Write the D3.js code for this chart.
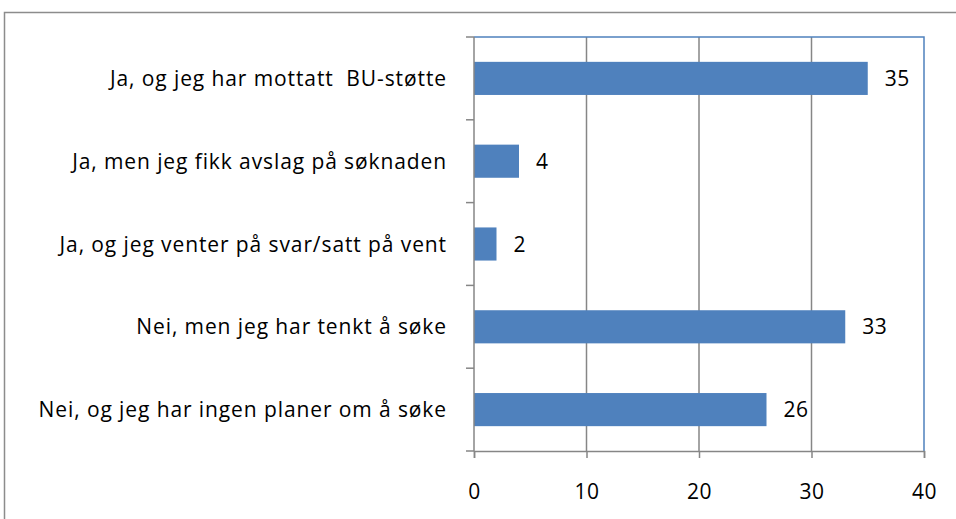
<!DOCTYPE html>
<html><head><meta charset="utf-8">
<script src="https://cdn.jsdelivr.net/npm/d3@7"></script>
<style>body{margin:0;background:#fff;} svg{display:block;font-family:"Open Sans",sans-serif;} text{white-space:pre;}</style>
</head><body>
<svg id="c" width="956" height="519"></svg>
<script>
const categories = [
  "Ja, og jeg har mottatt  BU-støtte",
  "Ja, men jeg fikk avslag på søknaden",
  "Ja, og jeg venter på svar/satt på vent",
  "Nei, men jeg har tenkt å søke",
  "Nei, og jeg har ingen planer om å søke"
];
const values = [35, 4, 2, 33, 26];
const xTicks = [0, 10, 20, 30, 40];

const svg = d3.select("#c");
const m = {left: 474, right: 924, top: 37, bottom: 451};
const x = d3.scaleLinear().domain([0, 40]).range([m.left, m.right]);
const y = d3.scaleBand().domain(categories).range([m.top, m.bottom]).paddingInner(0.6).paddingOuter(0.3);
const grey = "#868686", blue = "#4f81bd";

// outer chart border
svg.append("path").attr("d", "M4.5,960 V12.5 H960").attr("fill", "none").attr("stroke", "#8c8c8c").attr("stroke-width", 1.5);

// gridlines
svg.append("g").selectAll("line").data(xTicks.filter(t => t > 0 && t < 40)).join("line")
  .attr("x1", d => x(d)).attr("x2", d => x(d)).attr("y1", m.top).attr("y2", m.bottom)
  .attr("stroke", grey).attr("stroke-width", 1.5);

// plot area border (top & right)
svg.append("path").attr("d", `M${m.left},${m.top} H${m.right} V${m.bottom}`).attr("fill", "none").attr("stroke", blue).attr("stroke-width", 1.5);

// bars
svg.append("g").selectAll("rect").data(values).join("rect")
  .attr("x", x(0)).attr("y", (d, i) => y(categories[i]))
  .attr("width", d => x(d) - x(0)).attr("height", y.bandwidth())
  .attr("fill", blue);

// value labels
svg.append("g").selectAll("text").data(values).join("text")
  .attr("x", d => x(d) + 17).attr("y", (d, i) => y(categories[i]) + y.bandwidth() / 2)
  .attr("dy", "0.36em").attr("font-size", 21).attr("letter-spacing", 0.6).attr("fill", "#000").text(d => d);

// x axis
const xAxis = d3.axisBottom(x).tickValues(xTicks).tickSize(7).tickPadding(26);
const gx = svg.append("g").attr("transform", `translate(0,${m.bottom})`).call(xAxis);
gx.select(".domain").attr("stroke", grey).attr("stroke-width", 1.5);
gx.selectAll(".tick line").attr("stroke", grey).attr("stroke-width", 1.5);
gx.selectAll(".tick text").attr("font-size", 21).attr("letter-spacing", 0.6).attr("font-family", "Open Sans").attr("fill", "#000");

// y axis: ticks at category boundaries
const bounds = d3.range(categories.length + 1).map(i => m.top + i * (m.bottom - m.top) / categories.length);
svg.append("line").attr("x1", m.left).attr("x2", m.left).attr("y1", m.top).attr("y2", m.bottom).attr("stroke", grey).attr("stroke-width", 1.5);
svg.append("g").selectAll("line").data(bounds).join("line")
  .attr("x1", m.left - 8).attr("x2", m.left).attr("y1", d => d).attr("y2", d => d)
  .attr("stroke", grey).attr("stroke-width", 1.5);
svg.append("g").selectAll("text").data(categories).join("text")
  .attr("x", 447).attr("y", d => y(d) + y.bandwidth() / 2).attr("dy", "0.36em")
  .attr("text-anchor", "end").attr("font-size", 21).attr("letter-spacing", 0.9).attr("fill", "#000").text(d => d);
</script>
</body></html>
